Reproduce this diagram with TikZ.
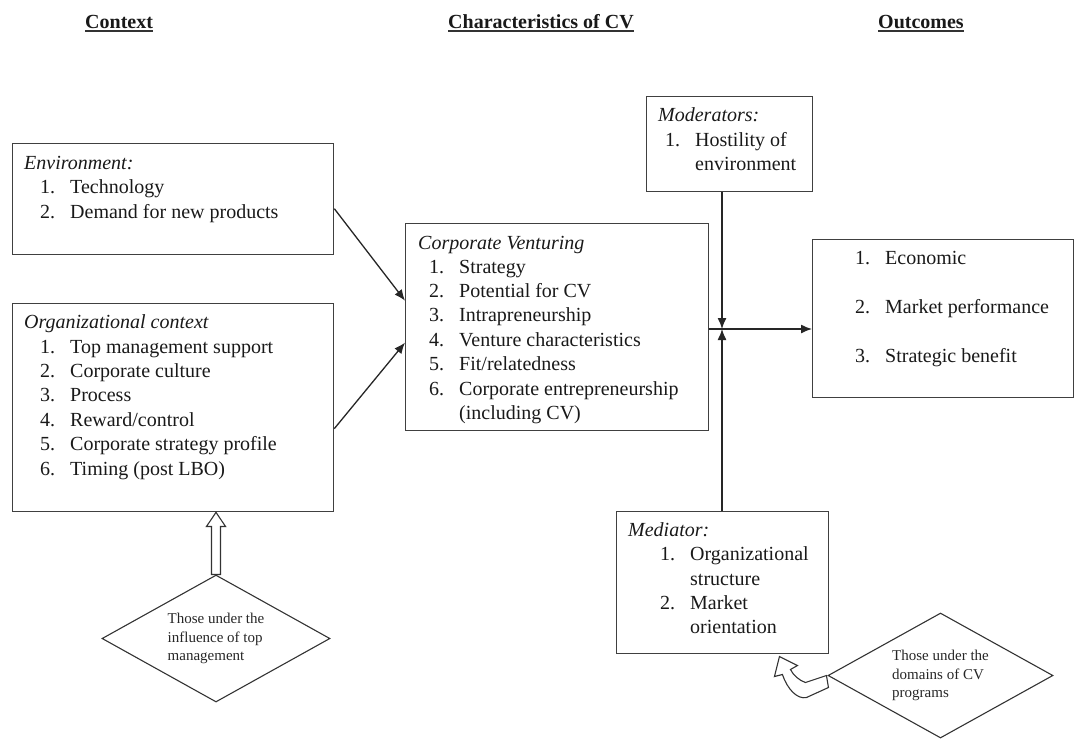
\documentclass[tikz,border=0pt]{standalone}
\usepackage{fontspec}
\setmainfont{Liberation Serif}
\usetikzlibrary{arrows.meta,shapes.geometric,calc}
\newcommand\itemno[1]{\makebox[30pt][l]{#1}}
\begin{document}
\begin{tikzpicture}[x=1pt,y=-1pt,
  box/.style={draw=black!75, line width=1.3pt, rectangle, inner sep=0pt, anchor=north west},
  txt/.style={inner sep=0pt, anchor=base west, font=\fontsize{20}{24.4}\selectfont, text=black!90},
  head/.style={inner sep=0pt, anchor=base west, font=\fontsize{20}{24}\selectfont\bfseries, text=black!90},
  uline/.style={line width=1.4pt, black!80},
  arr/.style={line width=1.3pt, black!85, -{Latex[length=11pt,width=9pt]}},
  choice/.style={diamond, draw=black!80, line width=1.1pt, inner sep=0pt, aspect=1.8,
    align=left, font=\fontsize{15}{18.5}\selectfont, text=black!85},
  hollow/.style={draw=black!80, line width=1.1pt, fill=white, line join=miter}
]
\useasboundingbox (0,0) rectangle (1076,740);

% column headings
\node[head] (hctx) at (85,28) {Context};
\node[head] (hchar) at (448,28) {Characteristics of CV};
\node[head] (hout) at (878,28) {Outcomes};
\foreach \h in {hctx,hchar,hout}
  \draw[uline] ([yshift=-3pt]\h.base west) -- ([yshift=-3pt]\h.base east);

% boxes
\node[box, minimum width=321pt, minimum height=111pt] (env) at (12,143) {};
\node[box, minimum width=321pt, minimum height=208pt] (org) at (12,303) {};
\node[box, minimum width=303pt, minimum height=207pt] (cv) at (405,223) {};
\node[box, minimum width=166pt, minimum height=95pt] (mod) at (646,96) {};
\node[box, minimum width=212pt, minimum height=142pt] (med) at (616,511) {};
\node[box, minimum width=261pt, minimum height=158pt] (out) at (812,239) {};

% environment
\node[txt] (env-t) at (24,169) {\textit{Environment:}};
\node[txt] (env-1) at (40,193.5) {\itemno{1.}Technology};
\node[txt] (env-2) at (40,218) {\itemno{2.}Demand for new products};

% organizational context
\node[txt] (org-t) at (24,328) {\textit{Organizational context}};
\node[txt] (org-1) at (40,353) {\itemno{1.}Top management support};
\node[txt] (org-2) at (40,377.4) {\itemno{2.}Corporate culture};
\node[txt] (org-3) at (40,401.8) {\itemno{3.}Process};
\node[txt] (org-4) at (40,426.2) {\itemno{4.}Reward/control};
\node[txt] (org-5) at (40,450.6) {\itemno{5.}Corporate strategy profile};
\node[txt] (org-6) at (40,475) {\itemno{6.}Timing (post LBO)};

% corporate venturing
\node[txt] (cv-t) at (418,249) {\textit{Corporate Venturing}};
\node[txt] (cv-1) at (429,273) {\itemno{1.}Strategy};
\node[txt] (cv-2) at (429,297.4) {\itemno{2.}Potential for CV};
\node[txt] (cv-3) at (429,321.8) {\itemno{3.}Intrapreneurship};
\node[txt] (cv-4) at (429,346.2) {\itemno{4.}Venture characteristics};
\node[txt] (cv-5) at (429,370.6) {\itemno{5.}Fit/relatedness};
\node[txt] (cv-6) at (429,395) {\itemno{6.}Corporate entrepreneurship};
\node[txt] (cv-6b) at (459,419.4) {(including CV)};

% moderators
\node[txt] (mod-t) at (658,121) {\textit{Moderators:}};
\node[txt] (mod-1) at (665,146) {\itemno{1.}Hostility of};
\node[txt] (mod-1b) at (695,170) {environment};

% mediator
\node[txt] (med-t) at (628,536) {\textit{Mediator:}};
\node[txt] (med-1) at (660,560) {\itemno{1.}Organizational};
\node[txt] (med-1b) at (690,585) {structure};
\node[txt] (med-2) at (660,609) {\itemno{2.}Market};
\node[txt] (med-2b) at (690,633) {orientation};

% outcomes
\node[txt] (out-1) at (855,264) {\itemno{1.}Economic};
\node[txt] (out-2) at (855,313) {\itemno{2.}Market performance};
\node[txt] (out-3) at (855,362) {\itemno{3.}Strategic benefit};

% decision diamonds
\node[choice, minimum width=228pt, minimum height=127pt] (dl) at (216,638.5)
  {Those under the\\influence of top\\management};
\node[choice, minimum width=225pt, minimum height=125pt] (dr) at (940.5,675.5)
  {Those under the\\domains of CV\\programs};

% connectors
\coordinate (jn) at (722,329);
\draw[arr] ([yshift=-9.5pt]env.east) -- ([yshift=26.5pt]cv.west);
\draw[arr] ([yshift=-21pt]org.east) -- ([yshift=-15.5pt]cv.west);
\draw[arr] (cv.east |- jn) -- (out.west |- jn);
\draw[arr] (mod.south -| jn) -- (jn);
\draw[arr] (med.north -| jn) -- (jn);

% hollow block arrow up into the organizational context
\draw[hollow] ($(dl.north)+(-4.5,0)$) -- ($(dl.north)+(-4.5,-48)$)
  -- ($(dl.north)+(-9.5,-48)$) -- (org.south -| dl.north)
  -- ($(dl.north)+(9.5,-48)$) -- ($(dl.north)+(4.5,-48)$)
  -- ($(dl.north)+(4.5,0)$) -- cycle;

% curved hollow arrow toward the mediator box
\begin{scope}[shift={(dr.west)}]
\draw[hollow] (-1,0) -- (-22,7) .. controls (-28,5) and (-34,0) .. (-37,-6)
  -- (-30,-10) -- (-48,-19) -- (-53,1) -- (-45,-1)
  .. controls (-40,14) and (-30,24) .. (-21,22) -- (1,12) -- cycle;
\end{scope}
\end{tikzpicture}
\end{document}
